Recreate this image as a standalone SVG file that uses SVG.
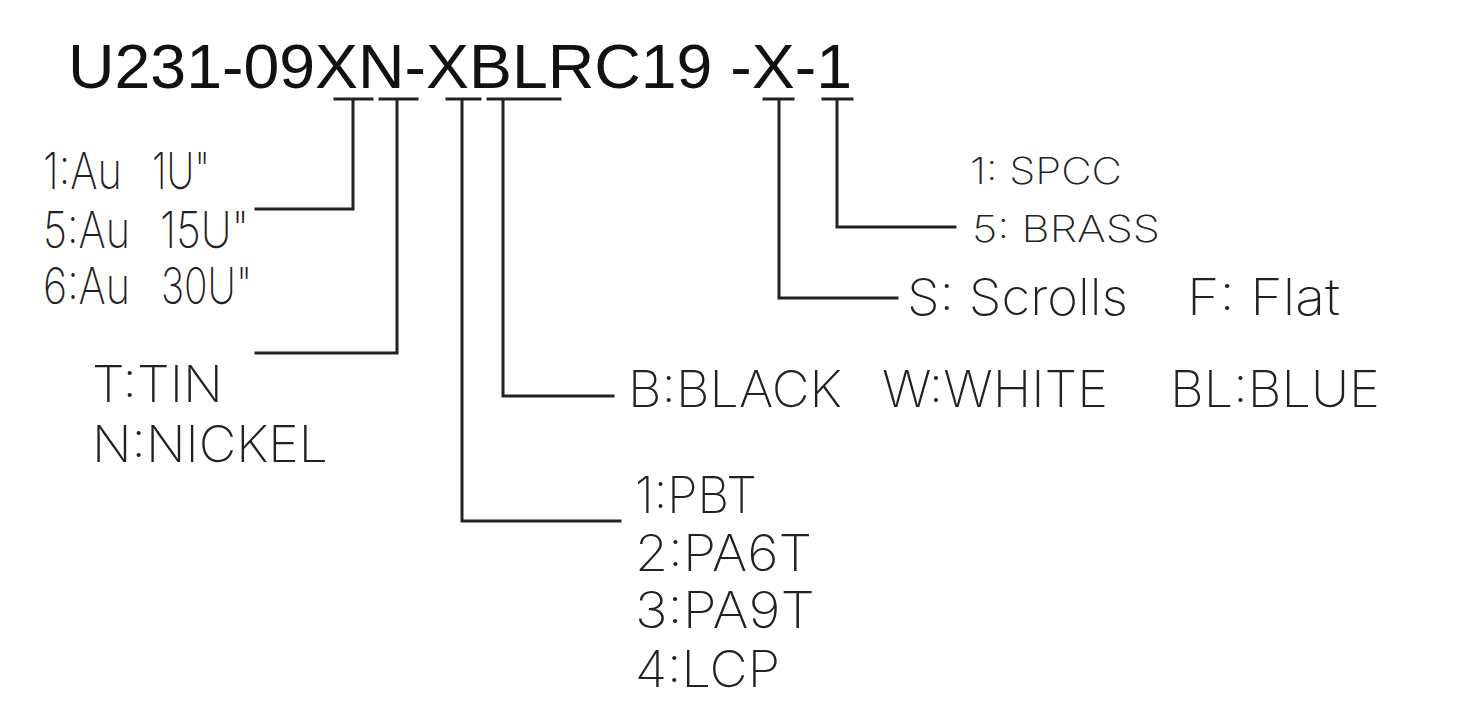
<svg xmlns="http://www.w3.org/2000/svg" width="1464" height="711" viewBox="0 0 1464 711">
<style>
.title{font-family:"Liberation Sans",Arial,sans-serif;font-size:63px;fill:#111}
.lbl{font-family:Inter,"DejaVu Sans",sans-serif;font-weight:200;font-size:50px;fill:#222}
.sm{font-size:37px}
.ln{fill:none;stroke:#222;stroke-width:3;stroke-linecap:square}
</style>
<rect width="1464" height="711" fill="#fff"/>
<g id="title">
<text class="title" x="68" y="88" textLength="784" lengthAdjust="spacingAndGlyphs">U231-09XN-XBLRC19 -X-1</text>
</g>
<g id="connectors">
<path class="ln" d="M335 99H372M353 99V209H256"/>
<path class="ln" d="M380 99H417M397 99V353H256"/>
<path class="ln" d="M447 99H480M462 99V521H620"/>
<path class="ln" d="M488 99H560M503 99V396H613"/>
<path class="ln" d="M764 99H793M779 99V298H897"/>
<path class="ln" d="M823 99H852M837 99V227H955"/>
</g>
<g id="plating">
<text class="lbl"><tspan x="43" y="189" textLength="79" lengthAdjust="spacingAndGlyphs">1:Au</tspan><tspan x="152" y="189" textLength="58" lengthAdjust="spacingAndGlyphs">1U"</tspan></text>
<text class="lbl"><tspan x="43" y="248" textLength="87" lengthAdjust="spacingAndGlyphs">5:Au</tspan><tspan x="160" y="248" textLength="89" lengthAdjust="spacingAndGlyphs">15U"</tspan></text>
<text class="lbl"><tspan x="43" y="304" textLength="87" lengthAdjust="spacingAndGlyphs">6:Au</tspan><tspan x="161" y="304" textLength="91" lengthAdjust="spacingAndGlyphs">30U"</tspan></text>
</g>
<g id="underplating">
<text class="lbl" x="92" y="402" textLength="131" lengthAdjust="spacingAndGlyphs">T:TIN</text>
<text class="lbl" x="92" y="462" textLength="236" lengthAdjust="spacingAndGlyphs">N:NICKEL</text>
</g>
<g id="material">
<text class="lbl" x="635" y="513" textLength="122" lengthAdjust="spacingAndGlyphs">1:PBT</text>
<text class="lbl" x="635" y="571" textLength="177" lengthAdjust="spacingAndGlyphs">2:PA6T</text>
<text class="lbl" x="635" y="628" textLength="180" lengthAdjust="spacingAndGlyphs">3:PA9T</text>
<text class="lbl" x="635" y="687" textLength="145" lengthAdjust="spacingAndGlyphs">4:LCP</text>
</g>
<g id="color">
<text class="lbl" x="628" y="407" textLength="214" lengthAdjust="spacingAndGlyphs">B:BLACK</text>
<text class="lbl" x="882" y="407" textLength="226" lengthAdjust="spacingAndGlyphs">W:WHITE</text>
<text class="lbl" x="1170" y="407" textLength="210" lengthAdjust="spacingAndGlyphs">BL:BLUE</text>
</g>
<g id="shape">
<text class="lbl" x="907" y="315" textLength="221" lengthAdjust="spacingAndGlyphs">S: Scrolls</text>
<text class="lbl" x="1187" y="315" textLength="153" lengthAdjust="spacingAndGlyphs">F: Flat</text>
</g>
<g id="shell">
<text class="lbl sm" x="970" y="184" textLength="152" lengthAdjust="spacingAndGlyphs">1: SPCC</text>
<text class="lbl sm" x="972" y="242" textLength="188" lengthAdjust="spacingAndGlyphs">5: BRASS</text>
</g>
</svg>
